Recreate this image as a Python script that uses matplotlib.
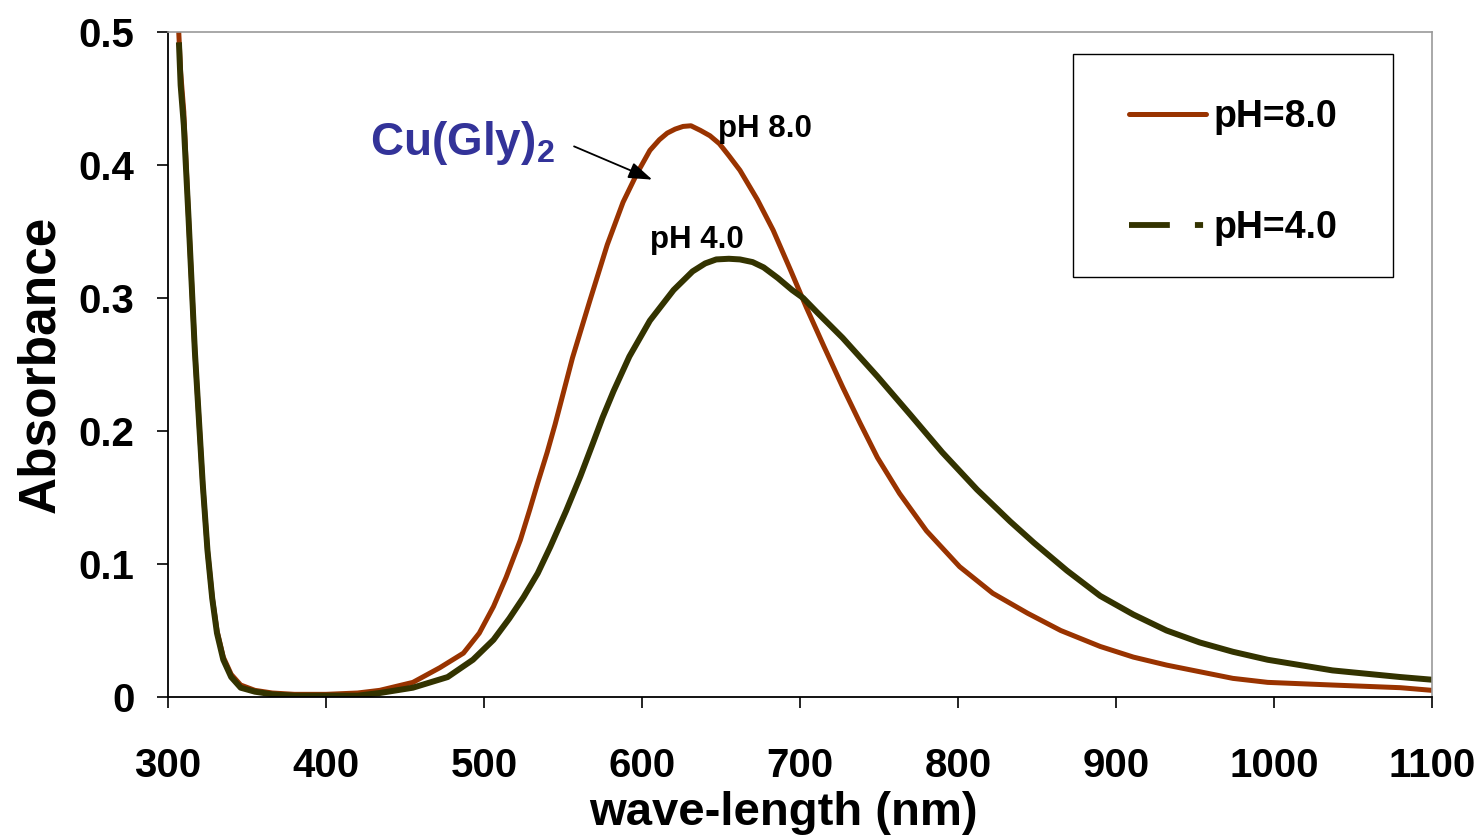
import matplotlib
matplotlib.use('Agg')
import matplotlib.pyplot as plt
from matplotlib.lines import Line2D
from matplotlib.patches import Rectangle

plt.rcParams['font.family'] = ['Liberation Sans', 'DejaVu Sans']
plt.rcParams['font.weight'] = 'bold'
plt.rcParams['mathtext.fontset'] = 'custom'
plt.rcParams['mathtext.rm'] = 'Liberation Sans:bold'
plt.rcParams['mathtext.bf'] = 'Liberation Sans:bold'

# pH 8.0 spectrum
wl_ph8 = [306, 308, 310, 313, 317, 322, 325, 328, 331, 335, 340, 346, 355, 366,
          380, 400, 420, 434, 455, 472, 487, 497, 506, 514, 523, 529, 534, 540,
          545, 556, 567, 578, 588, 597, 605, 611, 616, 621, 626, 631, 637, 643,
          649, 655, 662, 673, 683, 694, 704, 715, 727, 738, 749, 763, 780, 801,
          822, 844, 865, 890, 911, 932, 953, 974, 996, 1037, 1080, 1100]
abs_ph8 = [0.52, 0.47, 0.44, 0.36, 0.26, 0.16, 0.11, 0.075, 0.05, 0.03, 0.017,
           0.009, 0.005, 0.003, 0.002, 0.002, 0.003, 0.005, 0.011, 0.022, 0.033,
           0.048, 0.068, 0.090, 0.118, 0.141, 0.161, 0.184, 0.205, 0.255, 0.298,
           0.340, 0.372, 0.394, 0.411, 0.419, 0.424, 0.427, 0.429, 0.4295, 0.426,
           0.422, 0.416, 0.407, 0.396, 0.374, 0.351, 0.321, 0.293, 0.264, 0.233,
           0.206, 0.180, 0.153, 0.125, 0.098, 0.078, 0.063, 0.050, 0.038, 0.030,
           0.024, 0.019, 0.014, 0.011, 0.009, 0.007, 0.005]

# pH 4.0 spectrum
wl_ph4 = [307, 308, 310, 313, 317, 322, 325, 328, 331, 335, 340, 346, 355, 366,
          380, 400, 420, 434, 455, 477, 493, 506, 516, 525, 534, 542, 552, 561,
          569, 575, 582, 592, 605, 620, 632, 640, 647, 655, 662, 670, 677, 686,
          695, 702, 711, 727, 749, 770, 790, 812, 833, 848, 869, 890, 911, 932,
          953, 974, 996, 1037, 1080, 1100]
abs_ph4 = [0.49, 0.46, 0.43, 0.36, 0.26, 0.16, 0.11, 0.074, 0.048, 0.028, 0.015,
           0.007, 0.004, 0.002, 0.001, 0.001, 0.001, 0.003, 0.007, 0.015, 0.028,
           0.043, 0.059, 0.075, 0.093, 0.113, 0.140, 0.166, 0.191, 0.210, 0.230,
           0.256, 0.283, 0.306, 0.320, 0.326, 0.329, 0.3295, 0.329, 0.327, 0.323,
           0.315, 0.306, 0.300, 0.289, 0.270, 0.241, 0.212, 0.184, 0.156, 0.132,
           0.116, 0.095, 0.076, 0.062, 0.050, 0.041, 0.034, 0.028, 0.020, 0.015,
           0.013]

x_ticks = [300, 400, 500, 600, 700, 800, 900, 1000, 1100]
y_ticks = [0, 0.1, 0.2, 0.3, 0.4, 0.5]
y_tick_labels = ['0', '0.1', '0.2', '0.3', '0.4', '0.5']

red = '#993300'
olive = '#333300'

fig = plt.figure(figsize=(14.82, 8.35), dpi=100)
ax = fig.add_axes([0.11336, 0.16527, 0.85290, 0.79641])

ax.plot(wl_ph8, abs_ph8, color=red, lw=3.6, solid_joinstyle='round')
ax.plot(wl_ph4, abs_ph4, color=olive, lw=4.3, solid_joinstyle='round')

ax.set_xlim(300, 1100)
ax.set_ylim(0, 0.5)
ax.set_xticks(x_ticks)
ax.set_yticks(y_ticks)
ax.set_yticklabels(y_tick_labels)
ax.tick_params(axis='both', direction='out', length=8, width=1.2,
               labelsize=29)
ax.tick_params(axis='x', pad=28)
ax.tick_params(axis='y', pad=16)

for side in ['left', 'bottom']:
    ax.spines[side].set_color('black')
    ax.spines[side].set_linewidth(1.3)
for side in ['top', 'right']:
    ax.spines[side].set_color('#999999')
    ax.spines[side].set_linewidth(1.2)

ax.set_xlabel('wave-length (nm)', fontsize=34, fontweight='bold', va='baseline')
ax.xaxis.set_label_coords(0.4866, -0.1925)
ax.set_ylabel('Absorbance', fontsize=37, fontweight='bold', va='center')
ax.yaxis.set_label_coords(-0.1010, 0.5)

ax.text(648, 0.421, 'pH 8.0', fontsize=22.5, fontweight='bold', ha='left', va='baseline')
ax.text(605, 0.3376, 'pH 4.0', fontsize=22.5, fontweight='bold', ha='left', va='baseline')
ax.text(428, 0.4075, r'Cu(Gly)$_\mathbf{2}$', fontsize=33, fontweight='bold',
        color='#333399', ha='left', va='baseline')
ax.annotate('', xy=(606.5, 0.389), xytext=(557, 0.414),
            arrowprops=dict(arrowstyle='-|>,head_length=1.45,head_width=0.5',
                            color='black', lw=1.3, shrinkA=0, shrinkB=0))

# legend frame is larger than the entries need, as in the original
ax.add_patch(Rectangle((0.716, 0.632), 0.253, 0.335, transform=ax.transAxes,
                       fill=False, edgecolor='black', lw=1.0, zorder=4))
handles = [Line2D([], [], color=red, lw=3.6, solid_capstyle='round'),
           Line2D([], [], color=olive, lw=4.2, dash_capstyle='butt',
                  linestyle=(0, (7.0, 4.3, 1.4, 10)))]
ax.legend(handles, ['pH=8.0', 'pH=4.0'], loc='upper left',
          bbox_to_anchor=(0.731, 0.956), fontsize=27, frameon=False,
          borderpad=1.0, labelspacing=2.0, handlelength=2.05,
          handletextpad=0.2, borderaxespad=0)

fig.savefig('out.png', dpi=100)
